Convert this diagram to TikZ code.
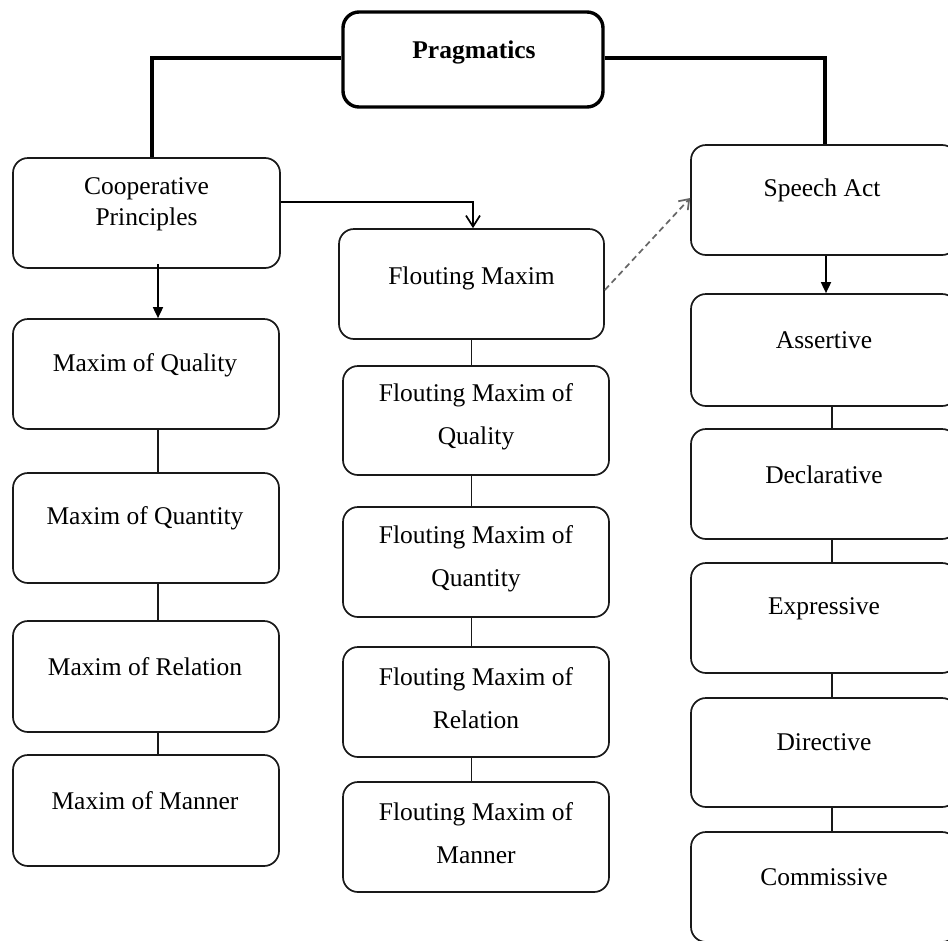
\documentclass[tikz,border=0pt]{standalone}
\usepackage{fontspec}
\setmainfont{Liberation Serif}
\usetikzlibrary{arrows.meta}
\begin{document}
\begin{tikzpicture}[x=1pt,y=-1pt,
  box/.style={draw=black!90, line width=1.7pt, rounded corners=15pt, minimum width=266pt, minimum height=110pt, inner sep=0pt},
  bigbox/.style={draw=black, line width=3.4pt, rounded corners=16pt, minimum width=260pt, minimum height=95pt, inner sep=0pt},
  txt/.style={inner sep=0pt, align=center, font=\fontsize{25.5}{31}\selectfont},
  txtw/.style={inner sep=0pt, align=center, font=\fontsize{25.5}{43}\selectfont},
  link/.style={line width=1.7pt, draw=black!90},
  thicklink/.style={line width=3.4pt},
  solidarrow/.style={line width=1.7pt, -{Triangle[length=11pt,width=10pt]}},
  openarrow/.style={line width=1.7pt, -{Straight Barb[length=11pt,width=14pt]}},
  dasharrow/.style={line width=1.7pt, draw=black!60, dash pattern=on 6pt off 4pt, -{Straight Barb[length=9pt,width=13pt]}}
]
\fill[white] (0,0) rectangle (948,940);
\clip (0,0) rectangle (948,940);

% boxes
\node[bigbox] (prag) at (473,59.5) {};
\node[box, minimum width=267pt] (coop) at (146.5,213) {};
\node[box] (mq1) at (146,374) {};
\node[box] (mq2) at (146,528) {};
\node[box, minimum height=111pt] (mq3) at (146,676.5) {};
\node[box, minimum height=111pt] (mq4) at (146,810.5) {};
\node[box, minimum width=265pt] (fm) at (471.5,284) {};
\node[box, minimum height=109pt] (fq1) at (476,420.5) {};
\node[box] (fq2) at (476,562) {};
\node[box] (fq3) at (476,702) {};
\node[box] (fq4) at (476,837) {};
\node[box] (sa) at (824,200) {};
\node[box, minimum height=112pt] (a1) at (824,350) {};
\node[box] (a2) at (824,484) {};
\node[box] (a3) at (824,618) {};
\node[box, minimum height=109pt] (a4) at (824,752.5) {};
\node[box] (a5) at (824,887) {};

% texts
\node[txt, font=\fontsize{25.5}{31}\selectfont\bfseries] (tprag) at (474,52) {Pragmatics};
\node[txt] (tcoop) at (146.5,204.5) {Cooperative\\Principles};
\node[txt] (tmq1) at (145,365) {Maxim of Quality};
\node[txt] (tmq2) at (145,518) {Maxim of Quantity};
\node[txt] (tmq3) at (145,667) {Maxim of Relation};
\node[txt] (tmq4) at (145,801) {Maxim of Manner};
\node[txt] (tfm) at (471.5,278) {Flouting Maxim};
\node[txtw] (tfq1) at (476,416.5) {Flouting Maxim of\\Quality};
\node[txtw] (tfq2) at (476,558.5) {Flouting Maxim of\\Quantity};
\node[txtw] (tfq3) at (476,698.5) {Flouting Maxim of\\Relation};
\node[txtw] (tfq4) at (476,833) {Flouting Maxim of\\Manner};
\node[txt] (tsa) at (822,190) {Speech Act};
\node[txt] (ta1) at (824,340) {Assertive};
\node[txt] (ta2) at (824,475) {Declarative};
\node[txt] (ta3) at (824,609) {Expressive};
\node[txt] (ta4) at (824,742) {Directive};
\node[txt] (ta5) at (824,877) {Commissive};

% connectors from Pragmatics
\draw[thicklink] ([yshift=1.5pt]prag.west) -| ([xshift=5.5pt]coop.north);
\draw[thicklink] ([yshift=1.5pt]prag.east) -| ([xshift=1pt]sa.north);

% arrows
\draw[openarrow] ([yshift=11pt]coop.east) -| ([xshift=1.5pt]fm.north);
\draw[solidarrow] ([xshift=11.5pt,yshift=5pt]coop.south) -- ([xshift=12pt]mq1.north);
\draw[dasharrow] ([yshift=-6pt]fm.east) -- ([yshift=2pt]sa.west);
\draw[solidarrow] ([xshift=2pt]sa.south) -- ([xshift=2pt]a1.north);

% left column
\draw[link] ([xshift=12pt]mq1.south) -- ([xshift=12pt]mq2.north);
\draw[link] ([xshift=12pt]mq2.south) -- ([xshift=12pt]mq3.north);
\draw[link] ([xshift=12pt]mq3.south) -- ([xshift=12pt]mq4.north);

% middle column
\draw[link] (fm.south) -- ([xshift=-4.5pt]fq1.north);
\draw[link] ([xshift=-4.5pt]fq1.south) -- ([xshift=-4.5pt]fq2.north);
\draw[link] ([xshift=-4.5pt]fq2.south) -- ([xshift=-4.5pt]fq3.north);
\draw[link] ([xshift=-4.5pt]fq3.south) -- ([xshift=-4.5pt]fq4.north);

% right column
\draw[link] ([xshift=8pt]a1.south) -- ([xshift=8pt]a2.north);
\draw[link] ([xshift=8pt]a2.south) -- ([xshift=8pt]a3.north);
\draw[link] ([xshift=8pt]a3.south) -- ([xshift=8pt]a4.north);
\draw[link] ([xshift=8pt]a4.south) -- ([xshift=8pt]a5.north);
\end{tikzpicture}
\end{document}
